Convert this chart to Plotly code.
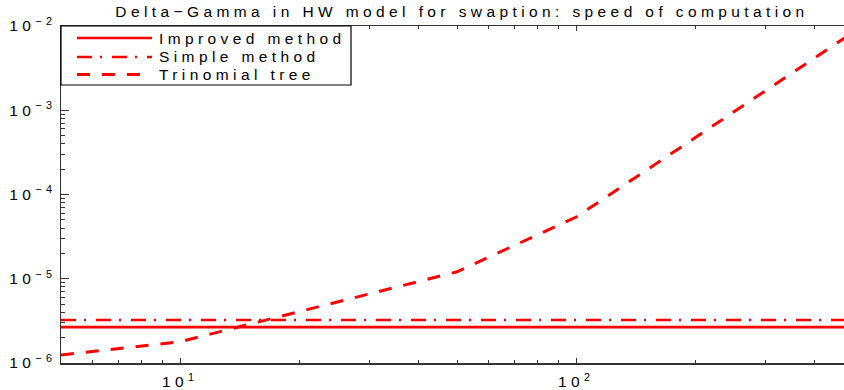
import numpy as np
import plotly.graph_objects as go

# ---- Data ----
n_steps = [5, 10, 50, 100, 500]
improved = [2.67e-6] * len(n_steps)
simple = [3.24e-6] * len(n_steps)
trinomial = [1.245e-6, 1.79e-6, 1.21e-5, 5.4e-5, 8.4e-3]

series_names = ["Improved method", "Simple method", "Trinomial tree"]
title_text = "Delta\u2212Gamma in HW model for swaption: speed of computation"

x_tickvals = [10, 100]
x_ticktext = ["10<sup>1</sup>", "10<sup>2</sup>"]
y_tickvals = [1e-6, 1e-5, 1e-4, 1e-3, 1e-2]
y_ticktext = ["10<sup>\u22126</sup>", "10<sup>\u22125</sup>", "10<sup>\u22124</sup>",
              "10<sup>\u22123</sup>", "10<sup>\u22122</sup>"]

# ---- Styles ----
RED = "#ff0000"
dashes = ["solid", "15px,8px,2px,10px", "13px,12px"]
widths = [2.7, 2.7, 3]
FONT = "Liberation Sans, Arial, Helvetica, sans-serif"
FS = 15.5

fig = go.Figure()
for name, ys, d, w in zip(series_names, [improved, simple, trinomial], dashes, widths):
    fig.add_trace(go.Scatter(x=n_steps, y=ys, mode="lines", name=name,
                             line=dict(color=RED, width=w, dash=d), showlegend=False,
                             hoverinfo="skip"))

# ---- Manual MATLAB-style legend (box, samples, labels) ----
W_PLOT, H_PLOT, L, T = 783, 337, 61, 26
def px(x):
    return (x - L) / W_PLOT
def py(y):
    return 1 - (y - T) / H_PLOT

shapes = [dict(type="rect", xref="paper", yref="paper", x0=px(61), x1=px(351),
               y0=py(85), y1=py(26), line=dict(color="black", width=1.2),
               fillcolor="white", layer="above")]
annotations = []
row_y = [38, 57, 74.5]
for name, d, w, ry in zip(series_names, dashes, widths, row_y):
    shapes.append(dict(type="line", xref="paper", yref="paper", x0=px(77), x1=px(152),
                       y0=py(ry), y1=py(ry), line=dict(color=RED, width=w, dash=d),
                       layer="above"))
    annotations.append(dict(text=name, xref="paper", yref="paper", x=px(157), y=py(ry),
                            xanchor="left", yanchor="middle", align="left",
                            showarrow=False, font=dict(size=FS, family=FONT, color="black")))

fig.update_layout(
    width=844, height=390,
    margin=dict(l=61, r=0, t=26, b=27),
    paper_bgcolor="white", plot_bgcolor="white",
    font=dict(family=FONT, size=FS, color="black"),
    title=dict(text=title_text, x=462/844, xanchor="center", xref="container",
               y=1 - 12/390, yanchor="middle", yref="container",
               font=dict(size=FS, family=FONT, color="black")),
    showlegend=False,
    hovermode=False,
    shapes=shapes,
    annotations=annotations,
    xaxis=dict(type="log", range=[np.log10(5), np.log10(5) + 783/396],
               showgrid=False, zeroline=False, showline=True, linecolor="#333",
               linewidth=1.5, mirror="allticks", ticks="inside", ticklen=5,
               tickcolor="#333", tickvals=x_tickvals, ticktext=x_ticktext,
               ticklabelstandoff=4, tickfont=dict(size=FS),
               minor=dict(ticks="inside", ticklen=3, dtick="D1", tickcolor="#333",
                          showgrid=False)),
    yaxis=dict(type="log", range=[-6, -2],
               showgrid=False, zeroline=False, showline=True, linecolor="#333",
               linewidth=1.5, ticks="inside", ticklen=8, tickcolor="#333",
               tickvals=y_tickvals, ticktext=y_ticktext, tickfont=dict(size=FS),
               minor=dict(ticks="inside", ticklen=4, dtick="D1", tickcolor="#333",
                          showgrid=False)),
)

post = ("var s=document.createElement('style');"
        "s.textContent='body{margin:0;} .main-svg text{letter-spacing:4.4px !important;}';"
        "document.head.appendChild(s);")
fig.write_html("out.html", post_script=post,
               config={"displayModeBar": False, "staticPlot": True})
